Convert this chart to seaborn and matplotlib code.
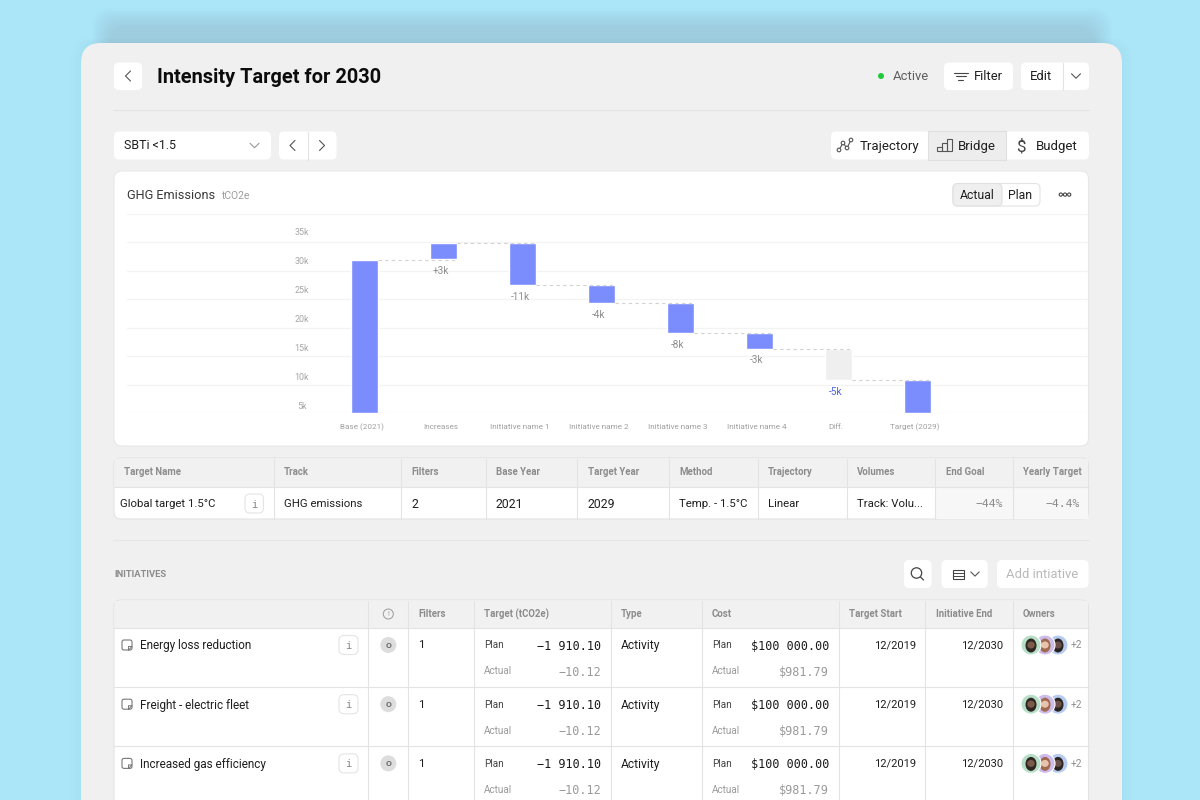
import numpy as np
import pandas as pd
import matplotlib
matplotlib.use("Agg")
import matplotlib.pyplot as plt
import seaborn as sns
from matplotlib.patches import FancyBboxPatch, Circle, Rectangle, Ellipse
from matplotlib.transforms import ScaledTranslation

# ---------- chart data ----------
steps = ["Base (2021)", "Increases", "Initiative name 1", "Initiative name 2",
         "Initiative name 3", "Initiative name 4", "Diff.", "Target (2029)"]
bar_tops = [30.1, 33.05, 33.05, 25.8, 22.7, 17.5, 14.9, 9.4]
bar_bottoms = [3.8, 30.3, 25.8, 22.7, 17.5, 14.9, 9.4, 3.8]
delta_labels = ["", "+3k", "-11k", "-4k", "-8k", "-3k", "-5k", ""]
connector_levels = [30.1, 33.05, 25.8, 22.7, 17.5, 14.9, 9.4]
y_ticks = [5, 10, 15, 20, 25, 30, 35]
y_tick_labels = ["5k", "10k", "15k", "20k", "25k", "30k", "35k"]

# ---------- table data ----------
target_headers = ["Target Name", "Track", "Filters", "Base Year", "Target Year", "Method",
                  "Trajectory", "Volumes", "End Goal", "Yearly Target"]
target_row = ["Global target 1.5°C", "GHG emissions", "2", "2021", "2029", "Temp. - 1.5°C",
              "Linear", "Track: Volu...", "−44%", "−4.4%"]
init_headers = ["Filters", "Target (tCO2e)", "Type", "Cost", "Target Start", "Initiative End", "Owners"]
init_names = ["Energy loss reduction", "Freight - electric fleet", "Increased gas efficiency"]
plan_target = "−1 910.10"
actual_target = "−10.12"
plan_cost = "$100 000.00"
actual_cost = "$981.79"

INK, GREY, MUTED = "#1f1f1f", "#8c8c8c", "#9a9a9a"
LINE = "#e3e3e3"
MONO = "DejaVu Sans Mono"

sns.set_theme(style="white")
plt.rcParams["font.family"] = ["Roboto", "DejaVu Sans"]

fig = plt.figure(figsize=(12, 8), dpi=100, facecolor="#ABE5F8")
ui = fig.add_axes([0, 0, 1, 1])
ui.set_xlim(0, 1200)
ui.set_ylim(800, 0)
ui.axis("off")


def box(x0, y0, x1, y1, r=5, fc="white", ec="none", lw=0.8, z=2, alpha=None):
    p = FancyBboxPatch((x0 + r, y0 + r), x1 - x0 - 2 * r, y1 - y0 - 2 * r,
                       boxstyle=f"round,pad={r},rounding_size={r}", fc=fc, ec=ec, lw=lw,
                       zorder=z, alpha=alpha, mutation_aspect=1)
    ui.add_patch(p)


def txt(x, y, s, px=12, c=INK, w="normal", ha="left", fam=None, z=6):
    kw = {"family": fam} if fam else {}
    ui.text(x, y - 0.7, s, fontsize=px * 0.72, color=c, fontweight=w, ha=ha, va="center_baseline", zorder=z, **kw)


def seg(xs, ys, c="#555555", lw=0.9, z=6):
    ui.plot(xs, ys, color=c, lw=lw, zorder=z, solid_capstyle="round", solid_joinstyle="round")


def chev(x, y, d="left", s=5, c="#555555", lw=0.8):
    if d == "left":
        seg([x + s / 2, x - s / 2, x + s / 2], [y - s, y, y + s], c, lw)
    elif d == "right":
        seg([x - s / 2, x + s / 2, x - s / 2], [y - s, y, y + s], c, lw)
    else:
        seg([x - s, x, x + s], [y - s / 2, y + s / 2, y - s / 2], c, lw)


def info(x0, y0, x1, y1):
    box(x0, y0, x1, y1, r=5, fc="white", ec="#e4e4e4", lw=0.8, z=5)
    txt((x0 + x1) / 2, (y0 + y1) / 2 + 0.7, "i", 10.5, "#888888", ha="center", fam=MONO)


# ---------- page chrome ----------
for i in range(12):
    box(92 + i * 1.5, 8 + i * 1.6, 1112 - i * 1.5, 120, r=20, fc="#55707c", alpha=0.0105, z=0.5)
for i in range(6):
    box(81 - i * 2, 43 - i, 1122 + i * 2, 830, r=20, fc="#55707c", alpha=0.006, z=0.6)
box(81, 43, 1122, 840, r=20, fc="#F0F0F0", z=1)

box(114, 62.5, 142, 90)
chev(128, 76, "left")
txt(157, 76, "Intensity Target for 2030", 20, "#0c0c0c", "bold")
ui.add_patch(Circle((881, 76), 3, fc="#22c93a", ec="none", zorder=6))
txt(893, 76, "Active", 13, "#5e5e5e")
box(944, 62.5, 1013, 90)
for wd, yy in zip([14, 10, 5], [72.5, 76, 79.5]):
    seg([960.5 - wd / 2, 960.5 + wd / 2], [yy, yy], "#444444", 0.8)
txt(974, 76, "Filter", 13)
box(1021, 62.5, 1089, 90)
seg([1062.5, 1062.5], [62.5, 90], LINE, 0.8)
txt(1030, 76, "Edit", 13)
chev(1076, 76, "down", 4.5)
seg([113, 1089], [110, 110], "#e4e4e4", 0.8)

box(114, 131.5, 271, 159.5)
txt(124, 145, "SBTi <1.5", 12.4)
chev(254.5, 145.5, "down", 4.5, "#999999")
box(279, 131.5, 336.5, 159.5)
seg([307.5, 307.5], [131.5, 159.5], LINE, 0.8)
chev(292.5, 145.5, "left")
chev(322, 145.5, "right")

box(831, 131.5, 1089, 159.5)
ui.add_patch(Rectangle((927.5, 131), 78.5, 28.5, fc="#EDEDED", ec="#e0e0e0", lw=0.8, zorder=3))
px_pts = [(839, 150), (843, 143), (847, 148), (851, 140)]
seg([p[0] for p in px_pts], [p[1] for p in px_pts], "#555555", 0.8)
for p in px_pts:
    ui.add_patch(Circle(p, 1.8, fc="white", ec="#555555", lw=0.8, zorder=7))
txt(860, 145.5, "Trajectory", 13.3)
for x0, h in zip([937, 942, 947], [4, 8, 12]):
    ui.add_patch(Rectangle((x0, 151 - h), 4.5, h, fc="none", ec="#555555", lw=0.8, zorder=7))
txt(958, 145.5, "Bridge", 13.3)
txt(1021, 145.5, "$", 17, "#444444", ha="center")
txt(1036, 145.5, "Budget", 13.3)

# ---------- chart card ----------
box(114, 171, 1088.5, 446, r=8, fc="white", ec="#e8e8e8", lw=0.8)
txt(127, 194.5, "GHG Emissions", 12.7, "#3a3a3a")
txt(221.5, 195.5, "tCO2e", 10.2, "#9c9c9c")
box(953, 183.5, 1040, 206, r=5, fc="white", ec="#e3e3e3", lw=0.8)
box(953, 183.5, 1002, 206, r=5, fc="#EFEFEF", ec="#e0e0e0", lw=0.8, z=3)
txt(977.5, 195, "Actual", 12.3, ha="center")
txt(1020.5, 195, "Plan", 12.3, ha="center")
for xx in [1060.8, 1065, 1069.2]:
    ui.add_patch(Circle((xx, 194.6), 1.6, fc="white", ec="#444444", lw=0.8, zorder=6))

# chart axes: left 127, right 1088, top 214, bottom 413 (pixels)
ax = fig.add_axes([127 / 1200, 1 - 413 / 800, (1088 - 127) / 1200, (413 - 214) / 800], zorder=5)
ax.patch.set_alpha(0)
df = pd.DataFrame({"step": steps, "height": np.array(bar_tops) - np.array(bar_bottoms)})
sns.barplot(data=df, x="step", y="height", color="#7B8DFD", width=0.334, saturation=1,
            errorbar=None, bottom=bar_bottoms, order=steps, ax=ax, zorder=3)
ax.patches[6].set_facecolor("#EFEFEF")
ylo, yhi = 3.79, 38.1
bar_half = 0.167
ax.set_xlim(-3.006, 9.158)
ax.set_ylim(ylo, yhi)
ax.set_xlabel("")
ax.set_ylabel("")
ax.set_yticks(y_ticks, y_tick_labels)
ax.set_yticks(np.linspace(ylo, yhi, 8), minor=True)
ax.yaxis.grid(True, which="minor", color="#f3f3f3", lw=0.9)
ax.yaxis.grid(False, which="major")
ax.xaxis.grid(False)
ax.tick_params(axis="y", which="both", length=0)
ax.tick_params(axis="y", which="major", pad=-125.8, labelsize=8.9 * 0.72, labelcolor="#a6a6a6")
ax.tick_params(axis="x", length=0, pad=7.6, labelsize=8.2 * 0.72, labelcolor="#a0a0a0")
for lab in ax.get_yticklabels():
    lab.set_ha("center")
shift = ScaledTranslation(-2.4 / 100, 0, fig.dpi_scale_trans)
for lab in ax.get_xticklabels():
    lab.set_transform(lab.get_transform() + shift)
sns.despine(ax=ax, left=True, bottom=True, top=True, right=True)
xs = np.arange(len(connector_levels))
ax.hlines(connector_levels, xs + bar_half, xs + 1 + bar_half, colors="#d2d2d2", linestyles=(0, (3, 3)), lw=0.8, zorder=4)
for i, (lab, low) in enumerate(zip(delta_labels, bar_bottoms)):
    if lab:
        ax.annotate(lab, (i, low), xytext=(-1.8, -8.4), textcoords="offset points", ha="center", va="center",
                    fontsize=10 * 0.72, color="#4d62d8" if lab == "-5k" else "#8e8e8e")

# ---------- target table ----------
box(114, 458, 1088.5, 519, r=7, fc="white", ec="#e3e3e3", lw=0.8)
ui.add_patch(Rectangle((936, 487), 152, 31.5, fc="#F7F7F7", ec="none", zorder=2.2))
ui.add_patch(Rectangle((115, 459), 972.5, 27.5, fc="#F1F1F1", ec="none", zorder=2.2))
seg([114, 1088.5], [486.5, 486.5], LINE, 0.8, z=3)
t_cols = [274, 400.5, 486, 577.3, 668.7, 757.7, 846.7, 935.3, 1012.7]
for c in t_cols:
    seg([c, c], [458.5, 518.5], LINE, 0.8, z=3)
t_head_x = [124, 284, 411, 496, 587.5, 679, 768, 856.7, 946, 1023]
for x, h in zip(t_head_x, target_headers):
    txt(x, 472, h, 9.7, GREY, "bold")
t_cell_x = [120, 284, 411, 496, 587, 679, 768, 857]
for x, v in zip(t_cell_x, target_row[:8]):
    txt(x, 503.5, v, 11.4 if not v.isdigit() else 12.3)
info(245, 494, 263.5, 513)
txt(1003.5, 503.5, target_row[8], 11.5, "#8a8a8a", ha="right", fam=MONO)
txt(1080, 503.5, target_row[9], 11.5, "#8a8a8a", ha="right", fam=MONO)

seg([113, 1089], [539.5, 539.5], "#e6e6e6", 0.8)
txt(114, 574, "INITIATIVES", 9.4, GREY, "bold")

box(904, 560, 931.5, 588)
ui.add_patch(Circle((916.5, 573), 5.2, fc="none", ec="#444444", lw=0.9, zorder=6))
seg([920.5, 923.5], [577, 580], "#444444", 0.9)
box(941.5, 560, 987.7, 588)
ui.add_patch(Rectangle((952.5, 569.5), 11, 9, fc="none", ec="#444444", lw=0.8, zorder=6))
seg([952.5, 963.5], [572.5, 572.5], "#444444", 0.7)
seg([952.5, 963.5], [575.5, 575.5], "#444444", 0.7)
chev(975, 574, "down", 4.2)
box(997, 560, 1088.5, 588)
txt(1042.5, 574, "Add intiative", 13, "#b9b9b9", ha="center")

# ---------- initiatives table ----------
box(114, 600, 1088.5, 840, r=7, fc="white", ec="#e3e3e3", lw=0.8)
ui.add_patch(Rectangle((115, 601), 972.5, 27, fc="#F1F1F1", ec="none", zorder=2.2))
seg([114, 1088.5], [628, 628], LINE, 0.8, z=3)
i_cols = [368.3, 407.5, 473.7, 611.3, 701.5, 838.7, 925.3, 1012.7]
for c in i_cols:
    seg([c, c], [600.5, 800], LINE, 0.8, z=3)
ui.add_patch(Circle((388.3, 614), 5, fc="none", ec="#9a9a9a", lw=0.7, zorder=6))
txt(388.3, 614.7, "!", 7, "#9a9a9a", ha="center")
i_head_x = [418, 484, 621, 711.7, 849, 935.7, 1022.7]
for x, h in zip(i_head_x, init_headers):
    txt(x, 613.5, h, 9.7, GREY, "bold")
row_tops = [628, 687.2, 746.4]
avatar_fc = ["#B7DFC8", "#CDBBEA", "#B6CBEF"]
skin = ["#7a5a48", "#e8c4ac", "#6a5048"]
hair = ["#2e2622", "#a06a50", "#2a2422"]
for name, top in zip(init_names, row_tops):
    y1, y2 = top + 17, top + 43
    if top > 628:
        seg([114, 1088.5], [top, top], LINE, 0.8, z=3)
    box(122, y1 - 5, 132, y1 + 5, r=2, fc="white", ec="#777777", lw=0.8, z=5)
    seg([128.5, 132, 128.5, 128.5], [y1 + 5, y1 + 1.5, y1 + 1.5, y1 + 5], "#777777", 0.7)
    txt(140, y1, name, 11.7)
    info(339, y1 - 9.5, 358, y1 + 9.5)
    ui.add_patch(Circle((388.3, y1), 8, fc="#DDDDDD", ec="none", zorder=5))
    txt(388.3, y1 + 0.7, "O", 8.5, "#666666", "bold", ha="center")
    txt(418, y1, "1", 11.5)
    txt(484, y1, "Plan", 10, "#444444")
    txt(601, y1 + 0.7, plan_target, 11.7, "#1a1a1a", ha="right", fam=MONO)
    txt(484, y2, "Actual", 10, MUTED)
    txt(601, y2 + 0.7, actual_target, 11.7, "#9a9a9a", ha="right", fam=MONO)
    txt(621, y1, "Activity", 12)
    txt(712, y1, "Plan", 10, "#444444")
    txt(829, y1 + 0.7, plan_cost, 11.8, "#1a1a1a", ha="right", fam=MONO)
    txt(712, y2, "Actual", 10, MUTED)
    txt(829, y2 + 0.7, actual_cost, 11.8, "#9a9a9a", ha="right", fam=MONO)
    txt(915.7, y1, "12/2019", 11.1, ha="right")
    txt(1003, y1, "12/2030", 11.1, ha="right")
    for j, (ax_c, fc_, sk, hr) in reversed(list(enumerate(zip([1031, 1045, 1058], avatar_fc, skin, hair)))):
        base = 5 + (3 - j) * 0.1
        ui.add_patch(Circle((ax_c, y1), 10, fc=fc_, ec="white", lw=0.8, zorder=base))
        ui.add_patch(Ellipse((ax_c, y1 + 0.5), 11, 14, fc=hr, ec="none", zorder=base + 0.02))
        ui.add_patch(Ellipse((ax_c, y1), 7.5, 7, fc=sk, ec="none", zorder=base + 0.04))
    txt(1070.5, y1, "+2", 10.3, "#8e8e8e")

fig.savefig("out.png", dpi=100, facecolor=fig.get_facecolor())
